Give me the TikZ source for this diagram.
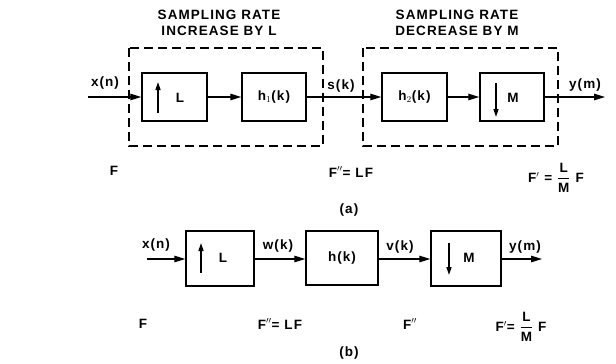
\documentclass[tikz,border=0pt]{standalone}
\usepackage{amsmath}
\usepackage{fontspec}
\setmainfont{Liberation Sans}[LetterSpace=8]
\usetikzlibrary{arrows.meta}
\newcommand{\lmfrac}{$\genfrac{}{}{1.3pt}{0}{\hbox{L}}{\hbox{M}}$}
\begin{document}
\begin{tikzpicture}[x=1pt,y=-1pt,
  every node/.style={font=\bfseries\fontsize{13.5}{16}\selectfont, inner sep=0pt},
  blk/.style={draw, line width=1.5pt, minimum width=#1, minimum height=48pt},
  grp/.style={draw, line width=1.4pt, dash pattern=on 9pt off 5pt},
  conn/.style={line width=1.3pt, -{Triangle[length=11pt,width=6.5pt]}},
  inarr/.style={line width=1.5pt, -{Triangle[length=8pt,width=5pt]}},
  lbl/.style={anchor=center}]
\useasboundingbox (0,0) rectangle (616,364);

% ---------- (a) ----------
\node[lbl, align=center] (t1) at (219,23) {SAMPLING RATE\\INCREASE BY L};
\node[lbl, align=center] (t2) at (457,23) {SAMPLING RATE\\DECREASE BY M};
\draw[grp] (129,48) rectangle (323,146);
\draw[grp] (363,48) rectangle (558,146);

\node[blk=65pt] (up) at (174.5,97) {};
\node[blk=64pt] (h1) at (274,97) {h$_1$(k)};
\node[blk=65pt] (h2) at (414.5,97) {h$_2$(k)};
\node[blk=64pt] (dn) at (512,97) {};

\draw[inarr] (158,113) -- (158,82);
\node[lbl] (uL) at (180,98) {L};
\draw[inarr] (496,83) -- (496,117);
\node[lbl] (dM) at (513,98) {M};

\coordinate (ina) at (88,97);
\coordinate (outa) at (605,97);
\draw[conn] (ina) -- (up);
\draw[conn] (up) -- (h1);
\draw[conn] (h1) -- (h2);
\draw[conn] (h2) -- (dn);
\draw[conn] (dn) -- (outa);

\node[lbl] (xa) at (105,83) {x(n)};
\node[lbl] (sa) at (341,86) {s(k)};
\node[lbl] (ya) at (585,85) {y(m)};

\node[lbl] (fa1) at (114,171) {F};
\node[lbl] (fa2) at (351,172) {F$''$= LF};
\node[lbl] (fa3) at (556,178) {F$'$ = \lmfrac\ F};
\node[lbl] (capa) at (349,210) {(a)};

% ---------- (b) ----------
\node[blk=68pt, minimum height=55pt] (upb) at (220,258.5) {};
\node[blk=72pt, minimum height=54pt] (hb) at (342,258) {h(k)};
\node[blk=70pt, minimum height=55pt] (dnb) at (466,258.5) {};

\draw[inarr] (201,273) -- (201,243);
\node[lbl] (uLb) at (223,258) {L};
\draw[inarr] (449,243) -- (449,275);
\node[lbl] (dMb) at (469,258) {M};

\coordinate (inb) at (147,259);
\coordinate (outb) at (542,259);
\draw[conn] (inb) -- (upb.west |- inb);
\draw[conn] (upb.east |- inb) -- (hb.west |- inb);
\draw[conn] (hb.east |- inb) -- (dnb.west |- inb);
\draw[conn] (dnb.east |- inb) -- (outb);

\node[lbl] (xb) at (156,245) {x(n)};
\node[lbl] (wb) at (278,246) {w(k)};
\node[lbl] (vb) at (400,247) {v(k)};
\node[lbl] (yb) at (525,247) {y(m)};

\node[lbl] (fb1) at (143,324) {F};
\node[lbl] (fb2) at (280,324) {F$''$= LF};
\node[lbl] (fb3) at (410,324) {F$''$};
\node[lbl] (fb4) at (521,327) {F$'$= \lmfrac\ F};
\node[lbl] (capb) at (349,353) {(b)};
\end{tikzpicture}
\end{document}
